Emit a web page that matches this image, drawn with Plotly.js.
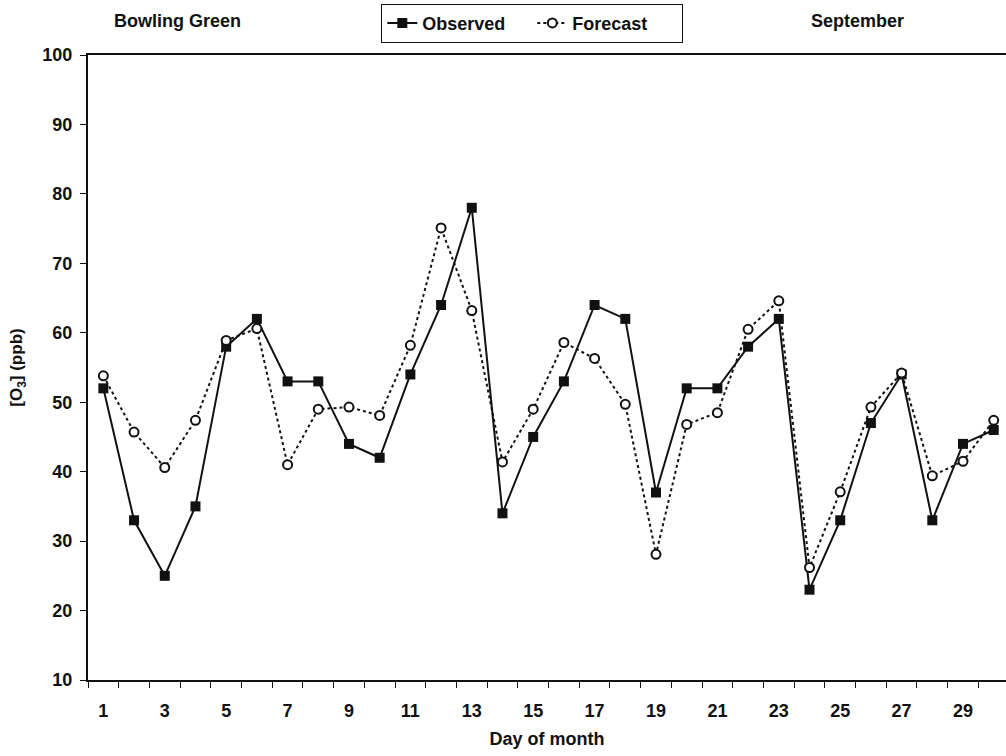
<!DOCTYPE html>
<html>
<head>
<meta charset="utf-8">
<script src="https://cdn.plot.ly/plotly-3.0.1.min.js"></script>
<style>
  html, body { margin: 0; padding: 0; background: #fff; }
  #chart { width: 1006px; height: 756px; }
</style>
</head>
<body>
<div id="chart"></div>
<script>
// Daily ozone at Bowling Green, September: observed vs forecast (ppb)
const days = [1,2,3,4,5,6,7,8,9,10,11,12,13,14,15,16,17,18,19,20,21,22,23,24,25,26,27,28,29,30];
const observed = [52,33,25,35,58,62,53,53,44,42,54,64,78,34,45,53,64,62,37,52,52,58,62,23,33,47,54,33,44,46];
const forecast = [53.8,45.7,40.6,47.4,58.9,60.6,41.0,49.0,49.3,48.1,58.2,75.1,63.2,41.4,49.0,58.6,56.3,49.7,28.1,46.8,48.5,60.5,64.6,26.2,37.1,49.3,54.2,39.4,41.5,47.4];
const dayLabels = [1,3,5,7,9,11,13,15,17,19,21,23,25,27,29];
const yTicks = [10,20,30,40,50,60,70,80,90,100];

const FONT = 'Arial, "Liberation Sans", sans-serif';
const INK = '#111';
const boldFont = (size) => ({ family: FONT, size: size, color: INK, weight: 'bold' });

const traces = [
  {
    x: days, y: observed, name: 'Observed', type: 'scatter', mode: 'lines+markers',
    line: { color: INK, width: 2 },
    marker: { symbol: 'square', size: 10, color: INK }
  },
  {
    x: days, y: forecast, name: 'Forecast', type: 'scatter', mode: 'lines+markers',
    line: { color: INK, width: 2, dash: 'dot' },
    marker: { symbol: 'circle', size: 9, color: '#fff', line: { color: INK, width: 2 } }
  }
];

const layout = {
  width: 1006, height: 756,
  margin: { l: 88, r: 0, t: 55, b: 76 },
  paper_bgcolor: '#fff', plot_bgcolor: '#fff',
  font: boldFont(18),
  showlegend: true,
  legend: {
    orientation: 'h', x: 0.484, xanchor: 'center', y: 1.082, yanchor: 'top',
    bordercolor: INK, borderwidth: 1, bgcolor: '#fff',
    font: boldFont(18),
    entrywidth: 105, entrywidthmode: 'pixels',
    tracegroupgap: 0
  },
  xaxis: {
    range: [0.5, 30.4],
    tickmode: 'array', tickvals: dayLabels, ticktext: dayLabels.map(String),
    ticks: '', ticklabelstandoff: 13,
    tickfont: boldFont(18),
    minor: { tick0: 0.5, dtick: 1, ticks: 'outside', ticklen: 6, tickwidth: 1, tickcolor: INK, showgrid: false },
    showgrid: false, zeroline: false,
    showline: true, linecolor: INK, linewidth: 2, mirror: true,
    title: { text: 'Day of month', font: boldFont(18), standoff: 13 }
  },
  yaxis: {
    range: [10, 100],
    tickmode: 'array', tickvals: yTicks,
    ticks: 'outside', ticklen: 6, tickwidth: 1, tickcolor: INK, ticklabelstandoff: 4,
    tickfont: boldFont(18),
    showgrid: false, zeroline: false,
    showline: true, linecolor: INK, linewidth: 2,
    title: { text: '[O<sub>3</sub>] (ppb)', font: boldFont(17), standoff: 15 }
  },
  annotations: [
    { text: 'Bowling Green', xref: 'paper', yref: 'paper', x: 0.097, y: 1.054,
      xanchor: 'center', yanchor: 'middle', showarrow: false, font: boldFont(18) },
    { text: 'September', xref: 'paper', yref: 'paper', x: 0.838, y: 1.054,
      xanchor: 'center', yanchor: 'middle', showarrow: false, font: boldFont(18) }
  ]
};

Plotly.newPlot('chart', traces, layout, { displayModeBar: false, staticPlot: true });
</script>
</body>
</html>
